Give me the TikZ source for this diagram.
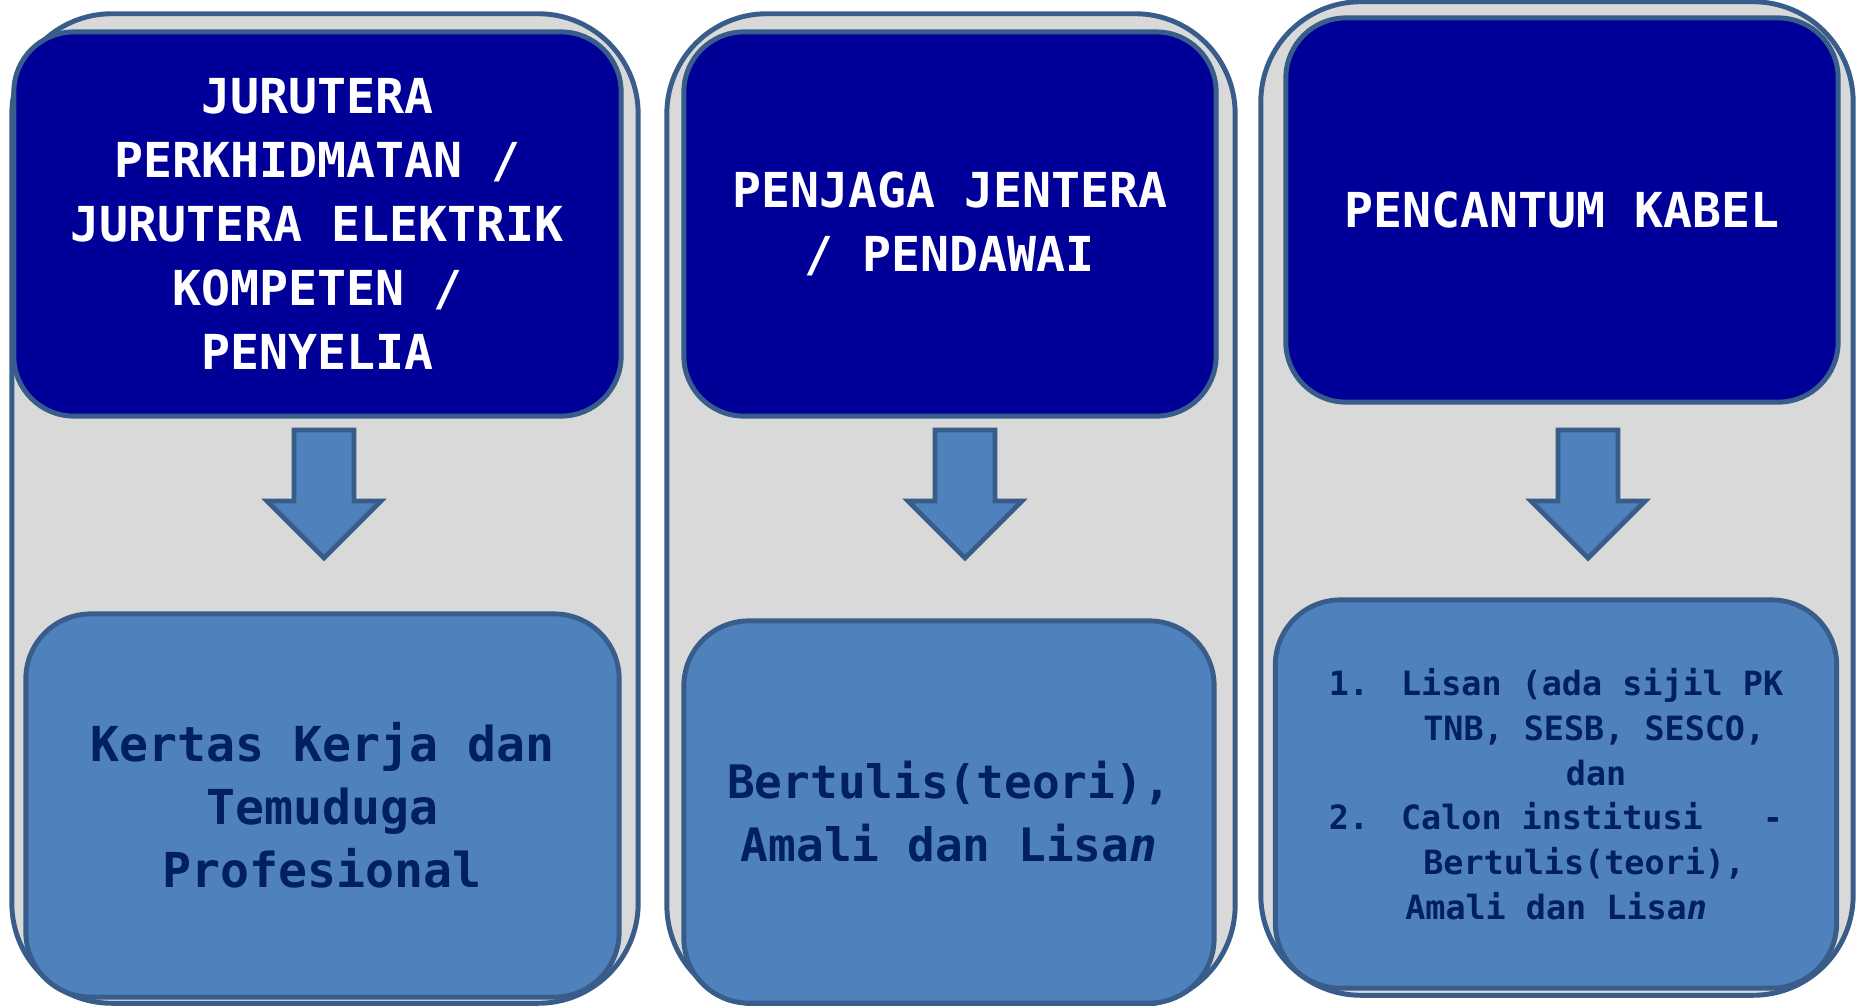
\documentclass[tikz,border=0pt]{standalone}
\usepackage{fontspec}
\setmonofont{DejaVu Sans Mono}
\definecolor{edgeblue}{HTML}{385D8A}
\definecolor{panelgray}{HTML}{D9D9D9}
\definecolor{headblue}{HTML}{000099}
\definecolor{stepblue}{HTML}{4F81BD}
\definecolor{textnavy}{HTML}{002060}
\tikzset{
  panel/.style = {draw = edgeblue, line width = 1.4pt, fill = panelgray, rounded corners = 1cm, inner sep = 0pt},
  headbox/.style = {draw = edgeblue, line width = 1.4pt, fill = headblue, rounded corners = 0.6cm, text = white, align = center,
    font = \ttfamily\bfseries\frenchspacing\fontsize{13.7}{18.2}\selectfont},
  methodbox/.style = {draw = edgeblue, line width = 1.4pt, fill = stepblue, rounded corners = 0.65cm, text = textnavy, align = center,
    font = \ttfamily\bfseries\frenchspacing\fontsize{13.7}{17.9}\selectfont},
  blockarrow/.style = {draw = edgeblue, line width = 1.4pt, fill = stepblue, line join = miter}
}
\begin{document}
\begin{tikzpicture}[x = 0.01cm, y = -0.01cm]
    \useasboundingbox (0, 0) rectangle (1862, 1005);
    % grey columns
    \node [panel, minimum width = 6.26cm, minimum height = 9.89cm] (p1) at (325, 508.5) {};
    \node [panel, minimum width = 5.68cm, minimum height = 9.91cm] (p2) at (951, 509.5) {};
    \node [panel, minimum width = 5.92cm, minimum height = 9.93cm] (p3) at (1557, 498.5) {};
    % job titles
    \node [headbox, minimum width = 6.07cm, minimum height = 3.84cm] (h1) at (317.5, 224)
      {JURUTERA\\PERKHIDMATAN /\\JURUTERA ELEKTRIK\\KOMPETEN /\\PENYELIA};
    \node [headbox, minimum width = 5.32cm, minimum height = 3.84cm] (h2) at (950, 224)
      {PENJAGA JENTERA\\/ PENDAWAI};
    \node [headbox, minimum width = 5.52cm, minimum height = 3.84cm] (h3) at (1562, 210)
      {PENCANTUM KABEL};
    % arrows
    \draw [blockarrow] (294, 430) -- (354, 430) -- (354, 501) -- (381, 501) -- (324, 558) -- (267, 501) -- (294, 501) -- cycle;
    \draw [blockarrow] (935, 430) -- (995, 430) -- (995, 501) -- (1022, 501) -- (965, 558) -- (908, 501) -- (935, 501) -- cycle;
    \draw [blockarrow] (1558, 430) -- (1618, 430) -- (1618, 501) -- (1645, 501) -- (1588, 558) -- (1531, 501) -- (1558, 501) -- cycle;
    % assessment methods
    \node [methodbox, minimum width = 5.93cm, minimum height = 3.83cm] (b1) at (322.5, 805.5)
      {Kertas Kerja dan\\Temuduga\\Profesional};
    \node [methodbox, minimum width = 5.30cm, minimum height = 3.82cm,
      font = \ttfamily\bfseries\frenchspacing\fontsize{13.1}{17.9}\selectfont] (b2) at (949, 812)
      {Bertulis(teori),\\Amali dan Lisa\textit{n}};
    \node [methodbox, minimum width = 5.61cm, minimum height = 3.88cm, align = left,
      font = \ttfamily\bfseries\frenchspacing\fontsize{9.5}{12.7}\selectfont] (b3) at (1556, 794)
      {1.\hspace{0.96em}Lisan (ada sijil PK\\
       \hspace*{2.83em}TNB, SESB, SESCO,\\
       \hspace*{7.1em}dan\\
       2.\hspace{0.96em}Calon institusi\hspace{1.8em}-\\
       \hspace*{2.83em}Bertulis(teori),\\
       \hspace*{2.29em}Amali dan Lisa\textit{n}};
  \end{tikzpicture}
\end{document}
